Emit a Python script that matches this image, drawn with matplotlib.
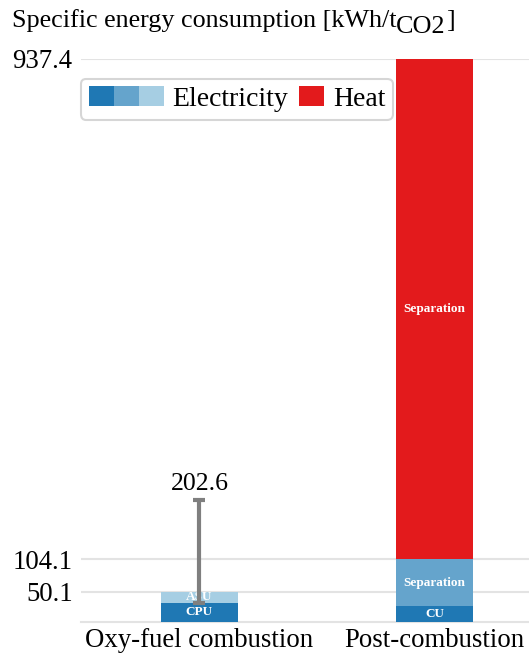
import matplotlib
matplotlib.use("Agg")
import matplotlib.pyplot as plt
from matplotlib.patches import Rectangle
from matplotlib.legend_handler import HandlerBase
from matplotlib.transforms import offset_copy

plt.rcParams['font.family'] = ['Liberation Serif', 'DejaVu Serif']

# specific energy consumption, kWh per t CO2
categories = ["Oxy-fuel combustion", "Post-combustion"]
elec_low = [31.6, 27.2]          # CPU / CU
elec_high = [18.5, 76.9]         # ASU / Separation
heat = [0.0, 833.3]              # Separation (heat)
low_labels = ["CPU", "CU"]
high_labels = ["ASU", "Separation"]
heat_labels = ["", "Separation"]
oxy_range = [31.6, 202.6]        # min / max for oxy-fuel
yticks = [50.1, 104.1, 937.4]

c_dark = '#1f78b4'
c_mid = '#65a4cc'
c_light = '#a6cee3'
c_heat = '#e31a1c'


class TripleHandler(HandlerBase):
    # three colour blocks side by side, three times the normal handle width
    def legend_artist(self, legend, orig_handle, fontsize, handlebox):
        w = handlebox.width
        h = handlebox.height
        handlebox.width = 3 * w
        for i, c in enumerate([c_dark, c_mid, c_light]):
            r = Rectangle((i * w, 0), w, h, facecolor=c, edgecolor='none',
                          transform=handlebox.get_transform())
            handlebox.add_artist(r)
        return r


fig = plt.figure(figsize=(5.29, 6.57), dpi=100)
ax = fig.add_axes([0.153, 0.0533, 0.847, 0.857])

x = [0, 1]
width = 0.328
bars1 = ax.bar(x, elec_low, width, color=c_dark, zorder=2)
bars2 = ax.bar(x, elec_high, width, bottom=elec_low, color=[c_light, c_mid], zorder=2)
tops = [a + b for a, b in zip(elec_low, elec_high)]
bars3 = ax.bar(x, heat, width, bottom=tops, color=c_heat, zorder=2)

for bars, labels, bottoms, vals in [
        (bars1, low_labels, [0, 0], elec_low),
        (bars2, high_labels, elec_low, elec_high),
        (bars3, heat_labels, tops, heat)]:
    for b, lab, bot, v in zip(bars, labels, bottoms, vals):
        if lab:
            ax.text(b.get_x() + b.get_width() / 2, bot + v / 2, lab,
                    ha='center', va='center', color='white',
                    fontsize=9.5, fontweight='bold', zorder=3)

# range of oxy-fuel consumption
ax.errorbar([x[0]], [tops[0]],
            yerr=[[tops[0] - oxy_range[0]], [oxy_range[1] - tops[0]]],
            fmt='none', ecolor='#7f7f7f', elinewidth=3, capsize=4,
            capthick=3, zorder=4)
ax.text(x[0], oxy_range[1] + 8, f"{oxy_range[1]:.1f}", ha='center',
        va='bottom', fontsize=18.5)

ax.set_xlim(-0.504, 1.402)
ax.set_ylim(0, 937.4)
ax.set_yticks(yticks)
ax.set_yticklabels([f"{v:.1f}" for v in yticks])
ax.set_xticks(x)
ax.set_xticklabels(categories)
ax.tick_params(axis='both', length=0, labelsize=19.3)
ax.tick_params(axis='y', pad=6)
ax.tick_params(axis='x', pad=4)
for s in ax.spines.values():
    s.set_visible(False)
ax.set_axisbelow(True)
ax.yaxis.grid(True, color='#e3e3e3', linewidth=1.5)
ax.axhline(0, color='#e3e3e3', linewidth=1.5, zorder=1, clip_on=False)

elec_handle = Rectangle((0, 0), 1, 1)
heat_handle = Rectangle((0, 0), 1, 1, facecolor=c_heat)
leg = ax.legend([elec_handle, heat_handle], ["Electricity", "Heat"],
                handler_map={elec_handle: TripleHandler()},
                loc='upper left', bbox_to_anchor=(0, 0.965), borderaxespad=0,
                ncol=2, fontsize=20, handlelength=0.9, handleheight=0.72,
                handletextpad=0.3, columnspacing=0.42, borderpad=0.28,
                frameon=True, fancybox=True)
leg.get_frame().set_edgecolor('#cccccc')
leg.get_frame().set_linewidth(1.5)

# title with a full-size, lowered "CO2" subscript
title_y = 1 - 27 / 657
t1 = fig.text(0.022, title_y, "Specific energy consumption [kWh/t",
              ha='left', va='baseline', fontsize=18.8)
fig.canvas.draw()
r = fig.canvas.get_renderer()
bb = t1.get_window_extent(r)
t2 = fig.text(bb.x1 / fig.bbox.width, title_y, "CO2", ha='left', va='baseline',
              fontsize=18.8,
              transform=offset_copy(fig.transFigure, fig=fig, y=-6, units='dots'))
bb2 = t2.get_window_extent(r)
fig.text((bb2.x1 + 0.5) / fig.bbox.width, title_y, "]", ha='left', va='baseline',
         fontsize=18.8)

fig.savefig("out.png", dpi=100)
